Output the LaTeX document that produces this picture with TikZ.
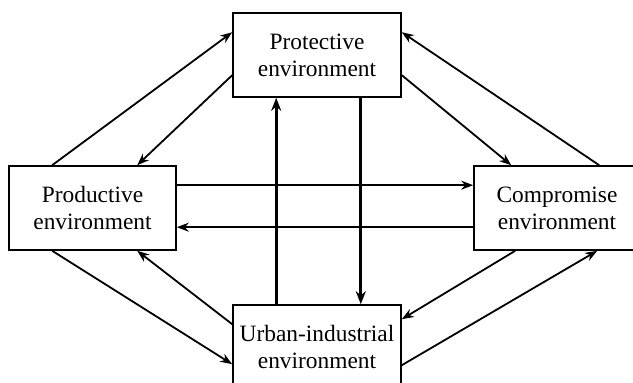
\documentclass[tikz,border=0pt]{standalone}
\usepackage{fontspec}
\setmainfont{Liberation Serif}
\usetikzlibrary{arrows.meta}

\tikzset{
  envbox/.style={draw, line width=1.6pt, minimum height=84pt, align=center,
    inner sep=2pt, font=\fontsize{23.4}{27}\selectfont},
  flow/.style={line width=1.8pt, -{Stealth[length=12pt,width=9pt]}},
  mainflow/.style={line width=3.2pt, -{Stealth[length=13pt,width=10pt]}}
}

\begin{document}
\begin{tikzpicture}[x=1pt,y=-1pt]
        \useasboundingbox (0,0) rectangle (633,383);

        % Boxes
        \node[envbox, minimum width=168pt] (prot) at (317,55) {Protective\\environment};
        \node[envbox, minimum width=167pt] (prod) at (92.5,208) {Productive\\environment};
        \node[envbox, minimum width=166pt] (comp) at (557,208) {Compromise\\environment};
        \node[envbox, minimum width=168pt] (urban) at (317,347) {Urban-industrial\\environment};

        % Productive <-> Protective
        \draw[flow] ([xshift=44pt]prod.north west) -- ([yshift=-20pt]prot.north west);
        \draw[flow] ([yshift=-63pt]prot.north west) -- ([xshift=129pt]prod.north west);

        % Compromise <-> Protective
        \draw[flow] ([xshift=126pt]comp.north west) -- ([yshift=-20pt]prot.north east);
        \draw[flow] ([yshift=-63pt]prot.north east) -- ([xshift=38pt]comp.north west);

        % Productive <-> Compromise
        \draw[flow] ([yshift=-20pt]prod.north east) -- ([yshift=-20pt]comp.north west);
        \draw[flow] ([yshift=-62pt]comp.north west) -- ([yshift=-62pt]prod.north east);

        % Protective <-> Urban-industrial
        \draw[mainflow] ([xshift=44pt]urban.north west) -- ([xshift=44pt]prot.south west);
        \draw[mainflow] ([xshift=-41pt]prot.south east) -- ([xshift=-41pt]urban.north east);

        % Productive <-> Urban-industrial
        \draw[flow] ([xshift=44pt]prod.south west) -- ([yshift=-60pt]urban.north west);
        \draw[flow] ([yshift=-20pt]urban.north west) -- ([xshift=129pt]prod.south west);

        % Compromise <-> Urban-industrial
        \draw[flow] ([xshift=42pt]comp.south west) -- ([yshift=-15pt]urban.north east);
        \draw[flow] ([yshift=-61pt]urban.north east) -- ([xshift=124pt]comp.south west);
    \end{tikzpicture}
\end{document}
